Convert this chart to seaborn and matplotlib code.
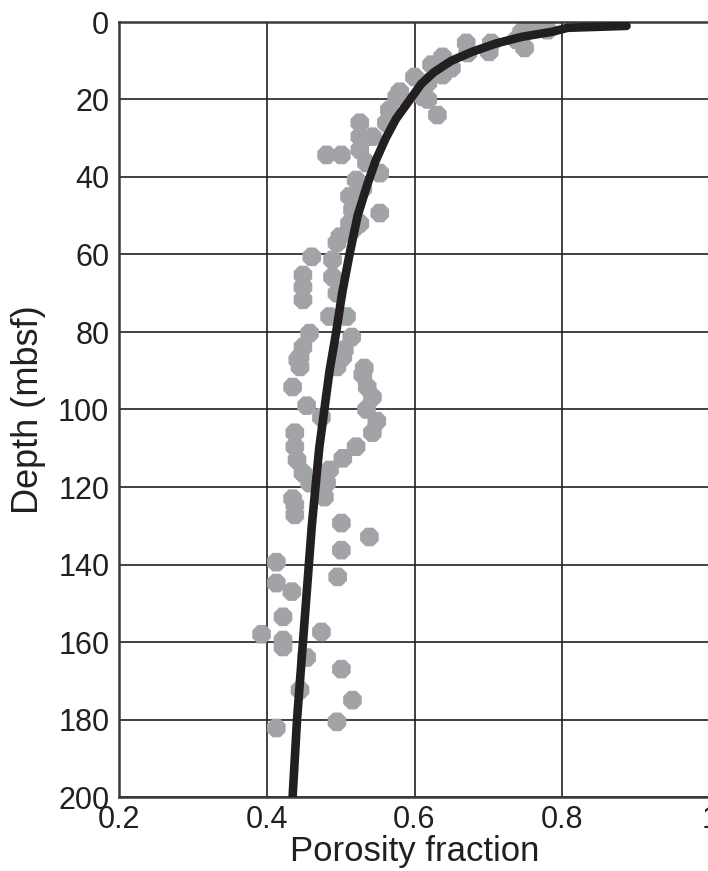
import pandas as pd
import matplotlib
matplotlib.use('Agg')
import matplotlib.pyplot as plt
import seaborn as sns

sample_porosity = [0.780, 0.759, 0.745, 0.749, 0.738, 0.704, 0.701, 0.670, 0.672, 0.638,
                   0.650, 0.623, 0.638, 0.600, 0.618, 0.580, 0.618, 0.631, 0.611, 0.576,
                   0.566, 0.562, 0.526, 0.526, 0.543, 0.526, 0.535, 0.553, 0.481, 0.501,
                   0.521, 0.512, 0.530, 0.553, 0.516, 0.512, 0.499, 0.526, 0.516, 0.495,
                   0.489, 0.461, 0.449, 0.449, 0.449, 0.489, 0.495, 0.485, 0.508, 0.458,
                   0.515, 0.449, 0.442, 0.505, 0.499, 0.532, 0.445, 0.445, 0.503, 0.495,
                   0.530, 0.536, 0.543, 0.535, 0.435, 0.454, 0.474, 0.549, 0.543, 0.521,
                   0.503, 0.438, 0.438, 0.441, 0.449, 0.485, 0.481, 0.458, 0.478, 0.435,
                   0.476, 0.438, 0.438, 0.501, 0.539, 0.501, 0.413, 0.496, 0.413, 0.434,
                   0.422, 0.393, 0.474, 0.422, 0.422, 0.454, 0.501, 0.445, 0.516, 0.495,
                   0.413]
sample_depth = [2.1, 1.5, 2.6, 6.7, 4.6, 5.4, 7.7, 5.4, 8.0, 9.0,
                11.9, 11.0, 13.7, 14.2, 15.7, 18.0, 20.0, 24.0, 19.3, 19.3,
                22.7, 26.0, 26.0, 29.6, 29.6, 33.0, 36.4, 39.0, 34.3, 34.3,
                40.8, 45.0, 43.0, 49.3, 48.5, 52.0, 55.4, 52.0, 53.7, 57.0,
                61.4, 60.6, 65.3, 68.4, 71.7, 65.8, 70.0, 76.0, 76.0, 80.3,
                81.3, 83.9, 87.2, 84.6, 87.2, 89.3, 86.4, 89.0, 86.4, 89.0,
                91.0, 94.2, 96.8, 100.0, 94.2, 99.0, 102.0, 103.0, 106.0, 109.6,
                112.6, 106.0, 109.6, 113.0, 116.4, 115.6, 119.0, 119.0, 122.6, 123.0,
                121.5, 124.6, 127.2, 129.3, 132.9, 136.3, 139.4, 143.2, 144.8, 147.0,
                153.5, 158.0, 157.4, 159.5, 161.3, 164.0, 167.0, 172.4, 175.0, 180.6,
                182.2]

# fitted trend curve
fit_porosity = [0.887, 0.807, 0.787, 0.746, 0.711, 0.678, 0.650, 0.626, 0.609, 0.594,
                0.575, 0.561, 0.547, 0.536, 0.523, 0.512, 0.502, 0.494, 0.485, 0.478,
                0.471, 0.466, 0.461, 0.457, 0.453, 0.449, 0.445, 0.441, 0.438, 0.435]
fit_depth = [1.0, 1.5, 2.5, 3.8, 5.5, 7.7, 10.0, 13.0, 16.0, 20.0,
             25.0, 30.0, 36.0, 42.0, 50.0, 60.0, 70.0, 80.0, 90.0, 100.0,
             110.0, 120.0, 130.0, 140.0, 150.0, 160.0, 170.0, 180.0, 190.0, 200.0]

x_ticks = [0.2, 0.4, 0.6, 0.8, 1.0]
x_tick_labels = ['0.2', '0.4', '0.6', '0.8', '1']
y_ticks = [0, 20, 40, 60, 80, 100, 120, 140, 160, 180, 200]

samples = pd.DataFrame({'porosity': sample_porosity, 'depth': sample_depth})
fit = pd.DataFrame({'porosity': fit_porosity, 'depth': fit_depth})

sns.set_style('white')
plt.rcParams['font.family'] = ['Liberation Sans', 'DejaVu Sans']

fig = plt.figure(figsize=(7.08, 8.71), dpi=100)
ax = fig.add_axes([119 / 708, 74 / 871, 591 / 708, 775 / 871])

sns.scatterplot(data=samples, x='porosity', y='depth', ax=ax, marker='8', s=210,
                color='#a2a3a7', edgecolor='none', zorder=2)
sns.lineplot(data=fit, x='porosity', y='depth', ax=ax, sort=False, estimator=None,
             color='#231f20', linewidth=6.2, zorder=3)

ax.set_xlim(0.2, 1.0)
ax.set_ylim(200, 0)
ax.set_xticks(x_ticks)
ax.set_xticklabels(x_tick_labels)
ax.set_yticks(y_ticks)
ax.grid(True, color='#231f20', linewidth=1.2)
ax.set_axisbelow(True)
for side in ['top', 'left', 'bottom', 'right']:
    ax.spines[side].set_color('#3a3a3a')
    ax.spines[side].set_linewidth(1.8)
ax.tick_params(axis='both', labelsize=22, length=2, width=1.2, pad=5, colors='#231f20')
ax.tick_params(axis='x', pad=4)
ax.set_xlabel('Porosity fraction', fontsize=25, labelpad=0, color='#231f20')
ax.set_ylabel('Depth (mbsf)', fontsize=26, labelpad=9, color='#231f20')

fig.savefig('out.png', dpi=100)
